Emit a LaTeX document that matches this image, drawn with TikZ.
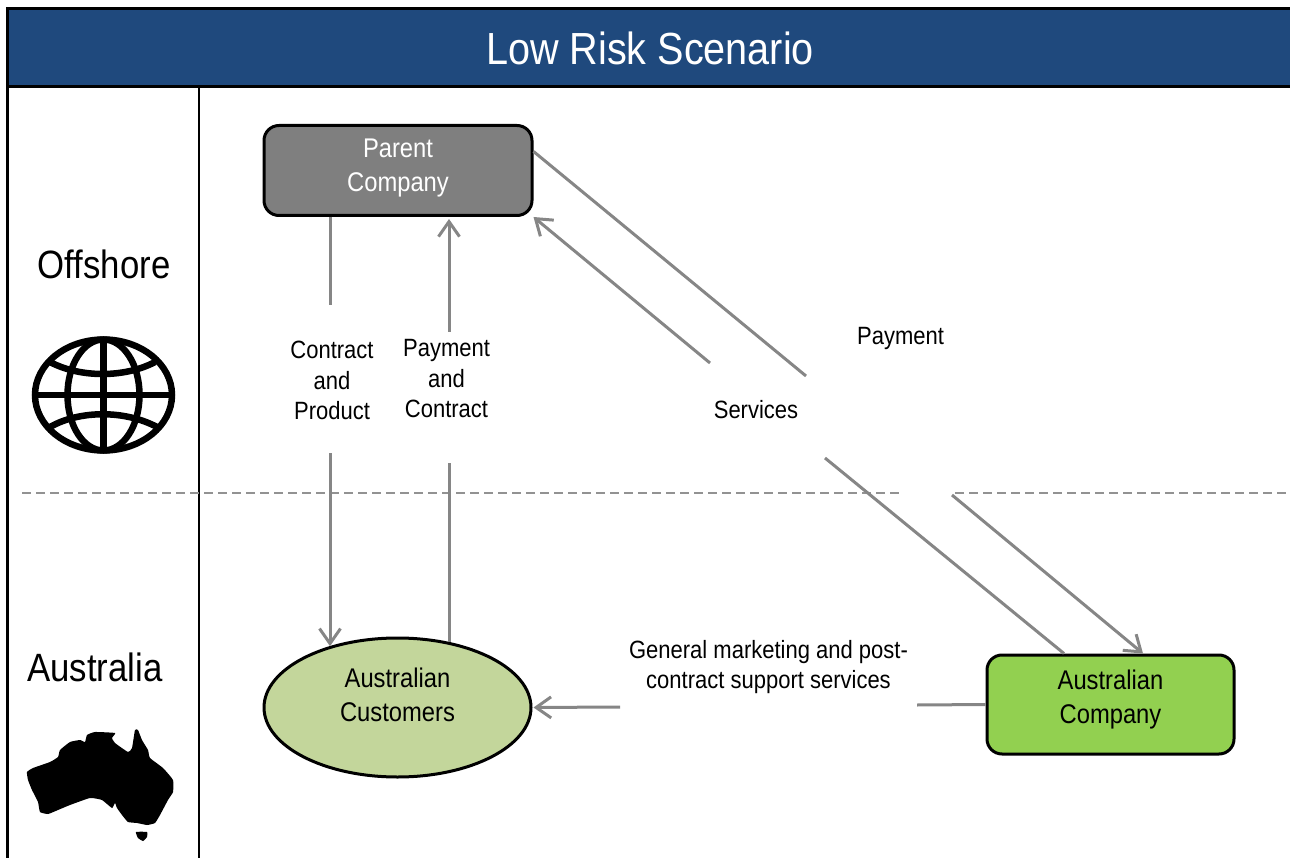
\documentclass[tikz,border=0pt]{standalone}
\usepackage{fontspec}
\setmainfont[FakeStretch=0.88]{Liberation Sans}
\usetikzlibrary{arrows.meta,shapes.geometric}
\definecolor{bannerblue}{HTML}{1F497D}
\definecolor{parentgrey}{HTML}{7F7F7F}
\definecolor{custgreen}{HTML}{C3D69B}
\definecolor{compgreen}{HTML}{92D050}
\definecolor{flowgrey}{HTML}{868686}

\begin{document}
\begin{tikzpicture}[x=1pt, y=-1pt,
        boxlabel/.style={align=center, inner sep=0pt, font=\fontsize{27}{34}\selectfont},
        entity/.style={boxlabel, draw=black, line width=3pt},
        flowtext/.style={align=center, inner sep=0pt, font=\fontsize{25}{30.5}\selectfont},
        region/.style={inner sep=0pt, font=\fontsize{39.5}{46}\selectfont},
        flow/.style={draw=flowgrey, line width=3pt, >={Straight Barb[length=15pt,width=21pt]}},
        border/.style={flowgrey!90, line width=2pt, dash pattern=on 8.5pt off 5.5pt},
        globe/.style={line width=6.5pt}]
            \useasboundingbox (0,0) rectangle (1290,858);

            % frame
            \node[fill=bannerblue, draw=black, line width=3pt, outer sep=0pt, minimum width=1300pt, minimum height=78pt, anchor=north west, inner sep=0pt] (banner) at (7,8.5) {};
            \node[inner sep=0pt, text=white, font=\fontsize{45}{50}\selectfont] (title) at (650,48) {Low Risk Scenario};
            \draw[line width=3pt] (7,87) -- (7,858);
            \draw[line width=2.5pt] (199,87) -- (199,858);

            % border between the regions
            \coordinate (dashA) at (22,493);
            \coordinate (dashB) at (900,493);
            \coordinate (dashC) at (955,493);
            \coordinate (dashD) at (1296,493);
            \draw[border] (dashA) -- (dashB);
            \draw[border] (dashC) -- (dashD);

            \node[region] (offshore) at (104,264.5) {Offshore};
            \node[region] (australia) at (95,667.5) {Australia};

            % globe
            \draw[globe] (103.5,395) ellipse (68.5 and 55.5);
            \draw[globe] (103.5,395) ellipse (36 and 55.5);
            \draw[globe] (103.5,338) -- (103.5,452);
            \draw[globe] (35,395) -- (172,395);
            \draw[globe] (50,362) .. controls (80,378) and (125,378) .. (155,362);
            \draw[globe] (50,427) .. controls (80,410) and (125,410) .. (157,427);

            % map
            \fill[black] plot[smooth cycle, tension=.25] coordinates {(27,772) (33,768) (50,762) (58,757) (60,750) (70,742) (80,740) (85,742) (87,735) (95,732) (115,733) (112,738) (115,743) (128,752) (132,748) (135,730) (138,730) (142,740) (148,750) (150,758) (163,768) (173,780) (173,792) (168,800) (160,815) (155,823) (147,825) (137,823) (128,822) (122,815) (117,808) (115,803) (112,808) (102,800) (90,798) (70,805) (58,810) (48,814) (40,812) (38,802) (32,790) (28,780)};
            \fill[black] plot[smooth cycle, tension=.25] coordinates {(136,832) (147,832) (147,837) (143,841) (138,838)};

            % entities
            \node[entity, rectangle, rounded corners=15pt, fill=parentgrey, text=white, minimum width=268pt, minimum height=90pt] (parent) at (398,170.5) {Parent\\Company\\[-23pt]};
            \node[entity, ellipse, fill=custgreen, minimum width=267pt, minimum height=139pt] (customers) at (397.5,707.5) {Australian\\Customers\\[-8pt]};
            \node[entity, rectangle, rounded corners=15pt, fill=compgreen, minimum width=247pt, minimum height=99pt] (company) at (1110.5,704.5) {Australian\\Company\\[-19pt]};

            % flow labels
            \node[flowtext] (contract) at (332,380.5) {Contract\\and\\Product};
            \node[flowtext] (paycontract) at (446.5,379) {Payment\\and\\Contract};
            \node[flowtext] (services) at (756,410) {Services};
            \node[flowtext] (payment) at (900.5,338) {Payment};
            \node[flowtext] (general) at (768.5,667) {General marketing and post-\\contract support services};

            % gap ends
            \coordinate (contractA) at (330,305);
            \coordinate (contractB) at (330,453);
            \coordinate (paycontractA) at (449,463);
            \coordinate (paycontractB) at (449,332);
            \coordinate (servicesA) at (825,458);
            \coordinate (servicesB) at (710,363);
            \coordinate (paymentA) at (806,376);
            \coordinate (paymentB) at (952,495);
            \coordinate (generalA) at (917,705);
            \coordinate (generalB) at (620,707);

            \draw[flow] (parent.south -| contractA) -- (contractA);
            \draw[flow, ->] (contractB) -- (contractB |- customers.138);
            \draw[flow] (paycontractA |- customers.51) -- (paycontractA);
            \draw[flow, ->, shorten >=2pt] (paycontractB) -- (parent.south -| paycontractB);
            \draw[flow] (company.north -| 1064,0) -- (servicesA);
            \draw[flow, ->] (servicesB) -- (parent.south east);
            \draw[flow] (parent.8.7) -- (paymentA);
            \draw[flow, ->] (paymentB) -- (company.north -| 1143,0);
            \draw[flow] (company.west) -- (generalA);
            \draw[flow, ->, shorten >=1pt] (generalB) -- (customers.east);
        \end{tikzpicture}
\end{document}
